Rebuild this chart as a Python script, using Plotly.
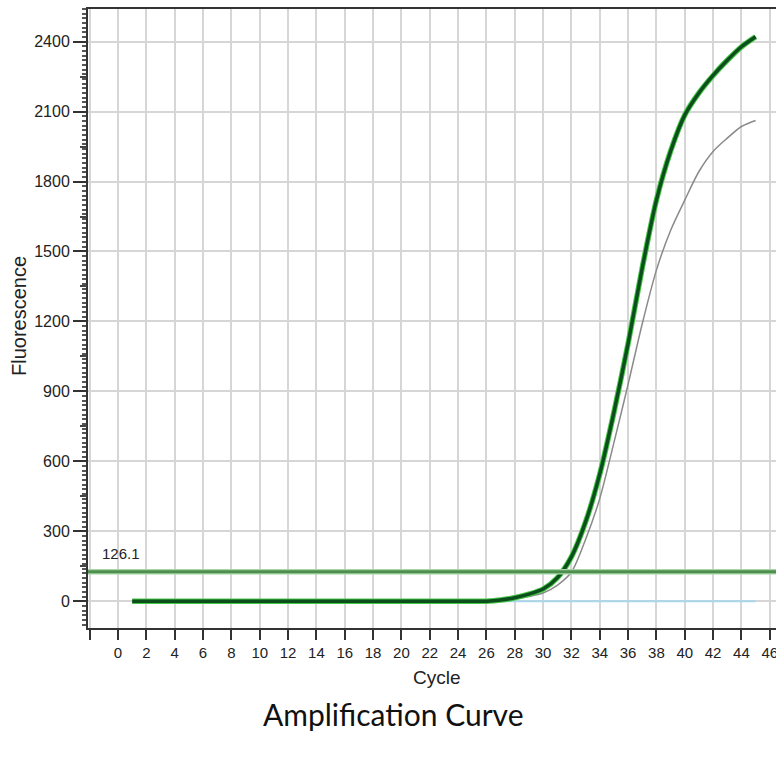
import plotly.graph_objects as go

cycles = list(range(1, 46))
sample_fluor = [0]*25 + [0, 5, 15, 30, 52, 100, 190, 340, 545, 810, 1105, 1430, 1720, 1930, 2085,
                         2180, 2255, 2320, 2378, 2421]
control_fluor = [0]*25 + [0, 3, 10, 20, 35, 68, 125, 265, 440, 680, 930, 1190, 1420, 1590, 1720,
                          1843, 1929, 1986, 2036, 2062]
ntc_fluor = [0]*45
threshold = 126.1
x_ticks = list(range(-2, 47, 2))
x_tick_text = [""] + [str(v) for v in range(0, 47, 2)]
y_ticks = list(range(0, 2401, 300))
y_mid_ticks = list(range(150, 2500, 300))

XR = [-2.12, 46.44]
YR = [-115, 2540]
font_main = "Liberation Sans, Arial, sans-serif"

fig = go.Figure()
fig.add_trace(go.Scatter(x=cycles, y=ntc_fluor, mode="lines",
                         line=dict(color="#a9d6ea", width=2), hoverinfo="skip"))
fig.add_trace(go.Scatter(x=cycles, y=control_fluor, mode="lines",
                         line=dict(color="#8a8a8a", width=1.5, shape="spline", smoothing=0.8)))
fig.add_trace(go.Scatter(x=cycles, y=sample_fluor, mode="lines",
                         line=dict(color="#45c845", width=5.5, shape="spline", smoothing=0.7),
                         hoverinfo="skip"))
fig.add_trace(go.Scatter(x=cycles, y=sample_fluor, mode="lines",
                         line=dict(color="#0c4f1c", width=3.5, shape="spline", smoothing=0.7)))
# threshold line
fig.add_trace(go.Scatter(x=XR, y=[threshold, threshold], mode="lines",
                         line=dict(color="#a6d6a6", width=5.5), hoverinfo="skip"))
fig.add_trace(go.Scatter(x=XR, y=[threshold, threshold], mode="lines",
                         line=dict(color="#4e8e4e", width=3), hoverinfo="skip"))
# medium ticks on an overlay axis
fig.add_trace(go.Scatter(x=[None], y=[None], yaxis="y2", showlegend=False))

fig.add_annotation(x=-1.3, y=threshold, yshift=18, text="126.1", showarrow=False,
                   xanchor="left", font=dict(family=font_main, size=15, color="#222"))
fig.add_annotation(xref="paper", yref="paper", x=(393 - 88) / 688, y=-(714 - 628) / 619,
                   text="Amplification Curve", showarrow=False, xanchor="center", yanchor="middle",
                   font=dict(family="Lato, sans-serif", size=30, color="#111"))
fig.add_annotation(xref="paper", yref="paper", x=(437 - 88) / 688, y=-(677 - 628) / 619,
                   text="Cycle", showarrow=False, xanchor="center", yanchor="middle",
                   font=dict(family=font_main, size=19, color="#222"))
fig.add_annotation(xref="paper", yref="paper", x=-(88 - 19) / 688, y=(628 - 316) / 619,
                   text="Fluorescence", showarrow=False, xanchor="center", yanchor="middle",
                   textangle=-90, font=dict(family=font_main, size=20, color="#222"))

fig.update_layout(
    width=776, height=760,
    margin=dict(l=88, r=0, t=9, b=132),
    paper_bgcolor="white", plot_bgcolor="white",
    showlegend=False,
    font=dict(family=font_main, size=15, color="#222"),
    xaxis=dict(range=XR, tickmode="array", tickvals=x_ticks, ticktext=x_tick_text,
               automargin=False, ticklabeloverflow="allow",
               showgrid=True, gridcolor="#d6d6d6", gridwidth=1.5,
               showline=True, linecolor="#333", linewidth=2, mirror=True,
               ticks="outside", ticklen=10, tickwidth=2, tickcolor="#333",
               tickfont=dict(size=15, color="#222"), zeroline=False),
    yaxis=dict(range=YR, tickmode="array", tickvals=y_ticks,
               automargin=False,
               showgrid=True, gridcolor="#d6d6d6", gridwidth=1.5,
               showline=True, linecolor="#333", linewidth=2,
               ticks="outside", ticklen=13, tickwidth=1.5, tickcolor="#333",
               tickfont=dict(size=16, color="#222"), zeroline=False,
               minor=dict(dtick=20, tick0=0, ticks="outside", ticklen=4, tickwidth=1.5,
                          tickcolor="#555", showgrid=False)),
    yaxis2=dict(range=YR, overlaying="y", anchor="x", side="left", automargin=False,
                tickmode="array", tickvals=y_mid_ticks, showticklabels=False,
                ticks="outside", ticklen=7, tickwidth=1.5, tickcolor="#444",
                showgrid=False, zeroline=False, showline=False),
)

fig.write_html("out.html", config={"displayModeBar": False})

# remove the default page margin so the figure sits at the window's top-left corner
with open("out.html", encoding="utf-8") as f:
    html = f.read()
html = html.replace("<body>", '<body style="margin:0;overflow:hidden">', 1)
with open("out.html", "w", encoding="utf-8") as f:
    f.write(html)
